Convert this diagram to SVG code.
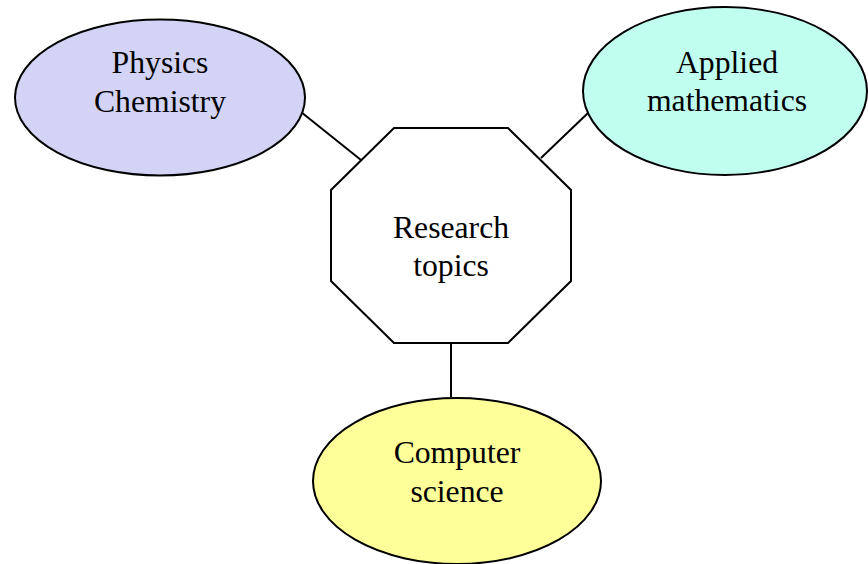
<svg xmlns="http://www.w3.org/2000/svg" width="868" height="564" viewBox="0 0 868 564">
<style>
.shape{stroke:#000;stroke-width:2}
.lbl{font-family:"Liberation Serif","Times New Roman",serif;font-size:31.7px;fill:#000;text-anchor:middle}
.conn{stroke:#000;stroke-width:2;fill:none}
</style>
<rect width="868" height="564" fill="#fff"/>
<g id="connectors">
<line class="conn" x1="301" y1="112" x2="361" y2="160"/>
<line class="conn" x1="588" y1="113" x2="541" y2="158"/>
<line class="conn" x1="451" y1="343" x2="451" y2="397"/>
</g>
<g id="physics">
<ellipse class="shape" cx="160" cy="97.5" rx="145" ry="78" fill="#d3d3f5"/>
<text class="lbl" x="160" y="73">Physics</text>
<text class="lbl" x="160" y="112">Chemistry</text>
</g>
<g id="applied">
<ellipse class="shape" cx="725" cy="91" rx="142" ry="84" fill="#c0fff0"/>
<text class="lbl" x="727" y="73">Applied</text>
<text class="lbl" x="727" y="111">mathematics</text>
</g>
<g id="research">
<polygon class="shape" points="394,128 508,128 571,190 571,281 508,343 394,343 331,281 331,190" fill="#fff"/>
<text class="lbl" x="451" y="238">Research</text>
<text class="lbl" x="451" y="276">topics</text>
</g>
<g id="computer">
<ellipse class="shape" cx="457" cy="481" rx="144" ry="83" fill="#ffff99"/>
<text class="lbl" x="457" y="463">Computer</text>
<text class="lbl" x="457" y="502">science</text>
</g>
</svg>
